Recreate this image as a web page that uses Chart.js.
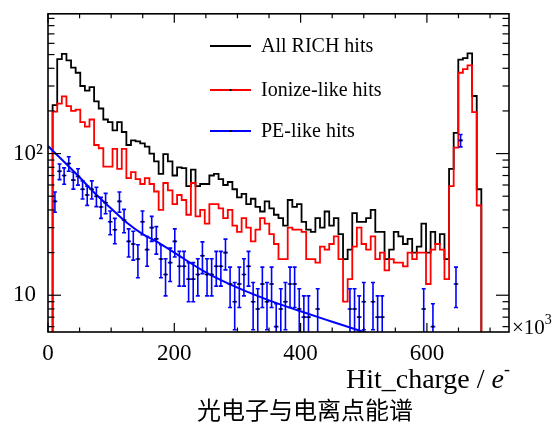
<!DOCTYPE html>
<html>
<head>
<meta charset="utf-8">
<script src="https://cdn.jsdelivr.net/npm/chart.js@4.4.1/dist/chart.umd.min.js"></script>
<style>
  html, body { margin: 0; padding: 0; background: #fff; }
  #wrap { width: 556px; height: 427px; }
</style>
</head>
<body>
<div id="wrap"><canvas id="chart" width="556" height="427"></canvas></div>
<script>
// Hit charge spectrum, 100 bins of 7.3 (x10^3 e-) from 0 to 730
const BIN_WIDTH = 7.3;

const allHits = [
  0, 220, 465, 505, 455, 405, 372, 300, 278, 295,
  234, 208, 174, 167, 146, 167, 142, 115, 124, 122,
  118, 112, 100, 88, 72, 99, 88, 70, 80, 79,
  59, 77, 59, 61, 61, 70, 72, 66, 60, 63,
  56, 49, 52, 44, 48, 42, 39, 46, 41, 37,
  35, 31, 47, 42, 44, 33, 29, 28, 35, 30,
  39, 31, 35, 27, 18, 21, 38, 33, 33, 35,
  40, 28, 28, 18, 21, 28, 26, 23, 25, 20,
  22, 32, 20, 28, 23, 27, 18, 78, 140, 460,
  472, 510, 255, 56, 0, 0, 0, 0, 0, 0
];

const ionizeHits = [
  0, 198, 225, 253, 216, 200, 204, 167, 155, 174,
  115, 109, 81, 81, 108, 78, 108, 67, 74, 66,
  61, 67, 61, 54, 40, 62, 55, 44, 51, 47,
  37, 62, 36, 40, 32, 44, 44, 41, 35, 40,
  31, 28, 35, 30, 24, 29, 35, 32, 27, 23,
  18, 18, 30, 29, 29, 28, 18, 18, 17, 22,
  21, 23, 26, 18, 9, 13, 22, 30, 23, 21,
  26, 18, 20, 15, 18, 17, 17, 16, 20, 18,
  20, 20, 12, 21, 23, 21, 13, 59, 110, 372,
  395, 420, 196, 43, 0, 0, 0, 0, 0, 0
];

// PE-like hits: bin index, content and error
const peBins = [
  1, 2, 3, 4, 5, 6, 7, 8, 9, 10,
  11, 12, 13, 14, 15, 16, 17, 18, 19, 20,
  21, 22, 23, 24, 25, 26, 27, 28, 29, 30,
  31, 32, 33, 34, 35, 36, 37, 38, 39, 40,
  41, 42, 43, 44, 45, 46, 47, 48, 49, 50,
  51, 52, 53, 54, 55, 56, 58, 65, 66, 67,
  68, 70, 71, 72, 81, 83, 88, 89
];
const peHits = [
  46, 75, 70, 85, 65, 69, 56, 51, 56, 50,
  42, 45, 33, 29, 46, 34, 24, 23, 18, 33,
  21, 30, 25, 18, 14, 17, 24, 16, 16, 13,
  13, 14, 19, 14, 14, 16, 16, 20, 12, 9,
  12, 14, 16, 9, 8, 12, 9, 12, 6, 8,
  9, 12, 12, 8, 7, 7, 8, 8, 8, 7,
  9, 9, 7, 7, 8, 6, 12, 124
];
const peErrors = [
  7.5, 9.5, 9.2, 10, 8.9, 9.1, 8.2, 7.9, 8.2, 7.8,
  7.1, 7.4, 6.3, 5.9, 7.5, 6.4, 5.4, 5.3, 4.7, 6.3,
  5, 6, 5.5, 4.7, 4.1, 4.5, 5.4, 4.4, 4.4, 4,
  4, 4.1, 4.8, 4.1, 4.1, 4.4, 4.4, 4.9, 3.8, 3.3,
  3.8, 4.1, 4.4, 3.3, 3.1, 3.8, 3.3, 3.8, 2.7, 3.1,
  3.3, 3.8, 3.8, 3.1, 2.9, 2.9, 3.1, 3.1, 3.1, 2.9,
  3.3, 3.3, 2.9, 2.9, 3.1, 2.7, 3.8, 12.5
];

// fit curve on the PE-like hits
const fitX = [0, 25, 50, 75, 100, 125, 150, 175, 200, 250, 300, 350, 400, 450, 500, 530];
const fitY = [113, 88, 68, 52, 41, 32.5, 27, 23.5, 20, 14.5, 11.3, 9.2, 7.7, 6.5, 5.5, 5.0];

const xTickValues = [0, 50, 100, 150, 200, 250, 300, 350, 400, 450, 500, 550, 600, 650, 700];
const xLabelValues = [0, 200, 400, 600];
const yTickValues = [6, 7, 8, 9, 10, 20, 30, 40, 50, 60, 70, 80, 90, 100, 200, 300, 400, 500, 600, 700, 800, 900];
const yLabelValues = [10, 100];

const legendLabels = ['All RICH hits', 'Ionize-like hits', 'PE-like hits'];

const SERIF = "'Liberation Serif', 'Times New Roman', serif";
const BLACK = '#000000';
const RED = '#ff0000';
const BLUE = '#0000ff';

function histPoints(values) {
  const pts = values.map((v, i) => ({ x: i * BIN_WIDTH, y: v > 0 ? v : 1 }));
  pts.push({ x: values.length * BIN_WIDTH, y: pts[pts.length - 1].y });
  return pts;
}

function line(ctx, x1, y1, x2, y2) {
  ctx.beginPath();
  ctx.moveTo(x1, y1);
  ctx.lineTo(x2, y2);
  ctx.stroke();
}

const rootStyle = {
  id: 'rootStyle',
  afterDatasetsDraw(chart) {
    const { ctx, chartArea: a, scales: { x, y } } = chart;
    const meta = chart.getDatasetMeta(2);
    const halfBin = (x.getPixelForValue(BIN_WIDTH) - x.getPixelForValue(0)) / 2;
    ctx.save();
    ctx.beginPath();
    ctx.rect(a.left, a.top, a.right - a.left, a.bottom - a.top);
    ctx.clip();
    ctx.strokeStyle = BLUE;
    ctx.lineWidth = 1.6;
    meta.data.forEach((pt, i) => {
      const v = peHits[i];
      const e = peErrors[i];
      const yTop = y.getPixelForValue(v + e);
      const yBot = v - e > 0 ? y.getPixelForValue(v - e) : a.bottom + 3;
      ctx.beginPath();
      ctx.moveTo(pt.x, yTop);
      ctx.lineTo(pt.x, yBot);
      ctx.moveTo(pt.x - halfBin, pt.y);
      ctx.lineTo(pt.x + halfBin, pt.y);
      ctx.moveTo(pt.x - 2, yTop);
      ctx.lineTo(pt.x + 2, yTop);
      ctx.moveTo(pt.x - 2, yBot);
      ctx.lineTo(pt.x + 2, yBot);
      ctx.stroke();
    });
    ctx.fillStyle = BLACK;
    meta.data.forEach(pt => ctx.fillRect(pt.x - 1, pt.y - 1, 2, 2));
    ctx.restore();
  },
  afterDraw(chart) {
    const { ctx, chartArea: a, scales: { x, y } } = chart;
    ctx.save();

    // frame
    ctx.strokeStyle = BLACK;
    ctx.lineWidth = 1.6;
    ctx.strokeRect(a.left, a.top, a.right - a.left, a.bottom - a.top);

    // inward ticks on all four sides
    ctx.lineWidth = 1.2;
    xTickValues.forEach(v => {
      const px = x.getPixelForValue(v);
      const len = xLabelValues.includes(v) ? 9 : 4.5;
      line(ctx, px, a.bottom, px, a.bottom - len);
      line(ctx, px, a.top, px, a.top + len);
    });
    yTickValues.forEach(v => {
      const py = y.getPixelForValue(v);
      const len = yLabelValues.includes(v) ? 13 : 6.5;
      line(ctx, a.left, py, a.left + len, py);
      line(ctx, a.right, py, a.right - len, py);
    });

    // legend
    const colors = [BLACK, RED, BLUE];
    const rows = [46, 90, 131];
    ctx.font = '20px ' + SERIF;
    ctx.textBaseline = 'middle';
    ctx.textAlign = 'left';
    legendLabels.forEach((label, i) => {
      ctx.strokeStyle = colors[i];
      ctx.lineWidth = 2;
      line(ctx, 210, rows[i], 251, rows[i]);
      ctx.fillStyle = BLACK;
      ctx.fillRect(229.5, rows[i] - 1, 2, 2);
      ctx.fillText(label, 261, rows[i] + 1);
    });

    // x10^3 multiplier
    ctx.fillStyle = BLACK;
    ctx.textBaseline = 'alphabetic';
    ctx.font = '21px ' + SERIF;
    ctx.fillText('\u00d710', 512, 334);
    const w10 = ctx.measureText('\u00d710').width;
    ctx.font = '14px ' + SERIF;
    ctx.fillText('3', 512 + w10, 324);

    // axis title, right aligned to the frame
    const main = 'Hit_charge / ';
    ctx.font = '28px ' + SERIF;
    const wMain = ctx.measureText(main).width;
    ctx.font = 'italic 28px ' + SERIF;
    const wE = ctx.measureText('e').width;
    ctx.font = '18px ' + SERIF;
    const wSup = ctx.measureText('-').width;
    let tx = a.right + 1 - (wMain + wE + wSup);
    ctx.font = '28px ' + SERIF;
    ctx.fillText(main, tx, 388);
    tx += wMain;
    ctx.font = 'italic 28px ' + SERIF;
    ctx.fillText('e', tx, 388);
    tx += wE;
    ctx.font = '18px ' + SERIF;
    ctx.fillText('-', tx, 375);

    // title under the axis
    ctx.font = "24px 'Noto Sans CJK SC', sans-serif";
    ctx.textAlign = 'center';
    ctx.textBaseline = 'middle';
    ctx.fillText('光电子与电离点能谱', 305, 410);

    ctx.restore();
  }
};

new Chart(document.getElementById('chart'), {
  type: 'line',
  data: {
    datasets: [
      {
        label: legendLabels[0],
        data: histPoints(allHits),
        borderColor: BLACK,
        borderWidth: 1.8,
        stepped: 'before',
        pointRadius: 0,
        fill: false,
        order: 4
      },
      {
        label: legendLabels[1],
        data: histPoints(ionizeHits),
        borderColor: RED,
        borderWidth: 1.8,
        stepped: 'before',
        pointRadius: 0,
        fill: false,
        order: 3
      },
      {
        label: legendLabels[2],
        data: peBins.map((b, i) => ({ x: (b + 0.5) * BIN_WIDTH, y: peHits[i] })),
        borderColor: BLUE,
        showLine: false,
        pointRadius: 0,
        order: 2
      },
      {
        label: 'fit',
        data: fitX.map((v, i) => ({ x: v, y: fitY[i] })),
        borderColor: BLUE,
        borderWidth: 2,
        pointRadius: 0,
        tension: 0.4,
        cubicInterpolationMode: 'monotone',
        fill: false,
        order: 1
      }
    ]
  },
  options: {
    responsive: false,
    animation: false,
    devicePixelRatio: 1,
    layout: { padding: { left: 13, right: 47, top: 10, bottom: 0 } },
    plugins: {
      legend: { display: false },
      tooltip: { enabled: false },
      title: { display: false }
    },
    scales: {
      x: {
        type: 'linear',
        min: 0,
        max: 730,
        grid: { display: false, drawTicks: false },
        border: { display: false },
        ticks: {
          padding: 8,
          maxRotation: 0,
          autoSkip: false,
          color: BLACK,
          font: { family: SERIF, size: 23 }
        },
        afterBuildTicks: s => { s.ticks = xLabelValues.map(v => ({ value: v })); },
        afterFit: s => { s.height = 95; }
      },
      y: {
        type: 'logarithmic',
        min: 5.5,
        max: 970,
        grid: { display: false, drawTicks: false },
        border: { display: false },
        ticks: {
          crossAlign: 'far',
          padding: 0,
          color: BLACK,
          font: { family: SERIF, size: 23 },
          callback: v => (v === 100 ? '10\u00b2' : String(v))
        },
        afterBuildTicks: s => { s.ticks = yLabelValues.map(v => ({ value: v })); },
        afterFit: s => { s.width = 35; }
      }
    }
  },
  plugins: [rootStyle]
});
</script>
</body>
</html>
